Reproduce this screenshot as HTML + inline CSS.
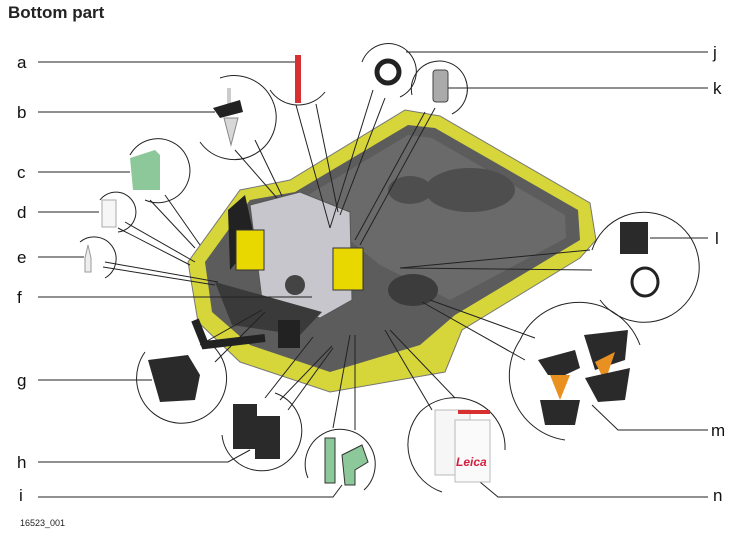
<!DOCTYPE html>
<html><head><meta charset="utf-8"><style>
html,body{margin:0;padding:0;background:#fff;}
body{width:748px;height:534px;overflow:hidden;position:relative;font-family:"Liberation Sans",sans-serif;}
.t{position:absolute;left:8px;top:3px;font-size:17px;font-weight:bold;color:#222;}
</style></head><body>
<div class="t">Bottom part</div>
<svg width="748" height="534" style="position:absolute;left:0;top:0" font-family="Liberation Sans, sans-serif">
<!-- case -->
<path d="M188,262 L240,190 L290,180 L405,110 L440,116 L590,203 L596,240 L580,258 L462,330 L445,372 L330,392 L240,362 L198,322 Z" fill="#d6d63a" stroke="#777" stroke-width="1"/>
<path d="M205,262 L250,200 L295,192 L408,125 L435,128 L578,210 L580,240 L455,315 L420,345 L330,372 L250,345 L212,312 Z" fill="#5c5c5c"/>
<path d="M300,200 L408,135 L432,138 L565,215 L566,238 L450,300 L380,265 Z" fill="#6a6a6a"/>
<ellipse cx="470" cy="190" rx="45" ry="22" fill="#4e4e4e"/>
<ellipse cx="413" cy="290" rx="25" ry="16" fill="#3c3c3c"/>
<ellipse cx="410" cy="190" rx="22" ry="14" fill="#4e4e4e"/>
<!-- handle -->
<path d="M195,320 L205,345 L265,338" fill="none" stroke="#222" stroke-width="8"/>
<!-- instrument -->
<path d="M250,205 L300,192 L350,212 L352,300 L320,318 L262,300 Z" fill="#c6c6cc" stroke="#555"/>
<path d="M228,210 L245,195 L255,240 L230,270 Z" fill="#222"/>
<rect x="236" y="230" width="28" height="40" fill="#e8d800" stroke="#333"/>
<rect x="333" y="248" width="30" height="42" fill="#e8d800" stroke="#333"/>
<circle cx="295" cy="285" r="10" fill="#444"/>
<path d="M215,282 L232,325 L300,335 L322,312 Z" fill="#3a3a3a"/>
<rect x="278" y="320" width="22" height="28" fill="#222"/>
<!-- pen a -->
<rect x="295" y="55" width="6" height="48" fill="#d83030"/>
<g fill="none" stroke="#222" stroke-width="1">
<!-- arcs -->
<path d="M270,90 A34,34 0 0 0 325,92"/>
<path d="M220,78 A42,42 0 1 1 200,142"/>
<path d="M130,155 A32,32 0 1 1 145,200"/>
<path d="M100,200 A20,20 0 1 1 118,232"/>
<path d="M80,242 A22,22 0 1 1 105,278"/>
<path d="M145,352 A45,45 0 1 0 213,346"/>
<path d="M222,435 A40,40 0 1 0 275,393"/>
<path d="M308,478 A35,35 0 1 1 364,490"/>
<path d="M362,62 A28,28 0 1 1 400,97"/>
<path d="M412,95 A28,28 0 1 1 452,114"/>
<path d="M592,250 A55,55 0 1 1 600,300"/>
<path d="M520,340 A65,65 0 0 0 565,440"/>
<path d="M520,340 A65,65 0 0 1 640,345"/>
<path d="M420,412 A50,50 0 0 0 442,492"/>
<path d="M420,412 A50,50 0 0 1 505,450"/>
<!-- leader lines -->
<line x1="38" y1="62" x2="295" y2="62"/>
<line x1="38" y1="112" x2="215" y2="112"/>
<line x1="38" y1="172" x2="130" y2="172"/>
<line x1="38" y1="212" x2="99" y2="212"/>
<line x1="38" y1="257" x2="84" y2="257"/>
<line x1="38" y1="297" x2="312" y2="297"/>
<line x1="38" y1="380" x2="152" y2="380"/>
<polyline points="38,462 228,462 250,450"/>
<polyline points="38,497 333,497 342,485"/>
<line x1="406" y1="52" x2="708" y2="52"/>
<line x1="446" y1="88" x2="708" y2="88"/>
<line x1="650" y1="238" x2="708" y2="238"/>
<polyline points="592,405 618,430 708,430"/>
<polyline points="480,482 498,497 708,497"/>
<!-- connectors -->
<line x1="296" y1="105" x2="330" y2="228"/><line x1="316" y1="104" x2="338" y2="212"/>
<line x1="235" y1="150" x2="277" y2="198"/><line x1="255" y1="140" x2="282" y2="196"/>
<line x1="150" y1="200" x2="195" y2="248"/><line x1="165" y1="195" x2="200" y2="245"/>
<line x1="118" y1="228" x2="190" y2="265"/><line x1="125" y1="222" x2="195" y2="262"/>
<line x1="103" y1="267" x2="215" y2="285"/><line x1="105" y1="262" x2="218" y2="282"/>
<line x1="200" y1="345" x2="262" y2="310"/><line x1="215" y1="362" x2="265" y2="312"/>
<line x1="265" y1="398" x2="313" y2="337"/><line x1="280" y1="400" x2="332" y2="346"/><line x1="288" y1="410" x2="333" y2="348"/>
<line x1="333" y1="428" x2="350" y2="335"/><line x1="355" y1="430" x2="355" y2="335"/>
<line x1="373" y1="90" x2="330" y2="228"/><line x1="385" y1="98" x2="340" y2="215"/>
<line x1="425" y1="112" x2="355" y2="240"/><line x1="435" y1="108" x2="360" y2="245"/>
<line x1="590" y1="250" x2="400" y2="268"/><line x1="592" y1="270" x2="400" y2="268"/>
<line x1="535" y1="338" x2="430" y2="300"/><line x1="525" y1="360" x2="422" y2="302"/>
<line x1="455" y1="398" x2="390" y2="330"/><line x1="432" y1="410" x2="385" y2="330"/>
</g>
<!-- accessories -->
<path d="M130,158 L155,150 L160,155 L160,190 L133,190 Z" fill="#8dc89a"/>
<rect x="102" y="200" width="14" height="27" fill="#f6f6f6" stroke="#aaa"/>
<path d="M85,258 L88,245 L91,258 L91,272 L85,272 Z" fill="#eee" stroke="#999"/>
<rect x="227" y="88" width="4" height="22" fill="#ccc"/>
<path d="M213,108 L240,100 L243,112 L220,118 Z" fill="#222"/>
<path d="M224,118 L238,118 L231,145 Z" fill="#d8d8d8" stroke="#888"/>
<path d="M148,360 L188,355 L200,375 L195,400 L160,402 Z" fill="#2a2a2a"/>
<rect x="233" y="404" width="24" height="45" fill="#2a2a2a"/><rect x="255" y="416" width="25" height="43" fill="#2a2a2a"/>
<rect x="325" y="438" width="10" height="45" fill="#8dc89a" stroke="#333"/><path d="M342,455 L362,445 L368,462 L355,470 L355,485 L345,485 Z" fill="#8dc89a" stroke="#333"/>
<circle cx="388" cy="72" r="11" fill="none" stroke="#222" stroke-width="5"/>
<rect x="433" y="70" width="15" height="32" rx="3" fill="#aaa" stroke="#444"/>
<rect x="620" y="222" width="28" height="32" fill="#2a2a2a"/>
<ellipse cx="645" cy="282" rx="13" ry="14" fill="none" stroke="#222" stroke-width="3"/>
<path d="M538,360 L575,350 L580,368 L565,375 L548,375 Z" fill="#2a2a2a"/>
<path d="M550,375 L570,375 L560,400 Z" fill="#e89020"/>
<path d="M540,400 L580,400 L575,425 L545,425 Z" fill="#2a2a2a"/>
<path d="M584,335 L628,330 L625,360 L595,370 Z" fill="#2a2a2a"/>
<path d="M595,362 L615,352 L605,382 Z" fill="#e89020"/>
<path d="M585,378 L630,368 L625,400 L598,402 Z" fill="#2a2a2a"/>
<rect x="435" y="410" width="35" height="65" fill="#f6f6f6" stroke="#bbb"/>
<rect x="455" y="420" width="35" height="62" fill="#fafafa" stroke="#bbb"/>
<rect x="458" y="410" width="32" height="4" fill="#d83030"/>
<text x="456" y="466" font-size="12" font-weight="bold" fill="#d02040" font-style="italic">Leica</text>
<g font-size="17" fill="#111">
<text x="17" y="68">a</text><text x="17" y="118">b</text><text x="17" y="178">c</text><text x="17" y="218">d</text><text x="17" y="263">e</text><text x="17" y="303">f</text><text x="17" y="386">g</text><text x="17" y="468">h</text><text x="19" y="501">i</text>
<text x="713" y="58">j</text><text x="713" y="94">k</text><text x="715" y="244">l</text><text x="711" y="436">m</text><text x="713" y="501">n</text>
</g>
<text x="20" y="526" font-size="9" fill="#222">16523_001</text>
</svg>
</body></html>
